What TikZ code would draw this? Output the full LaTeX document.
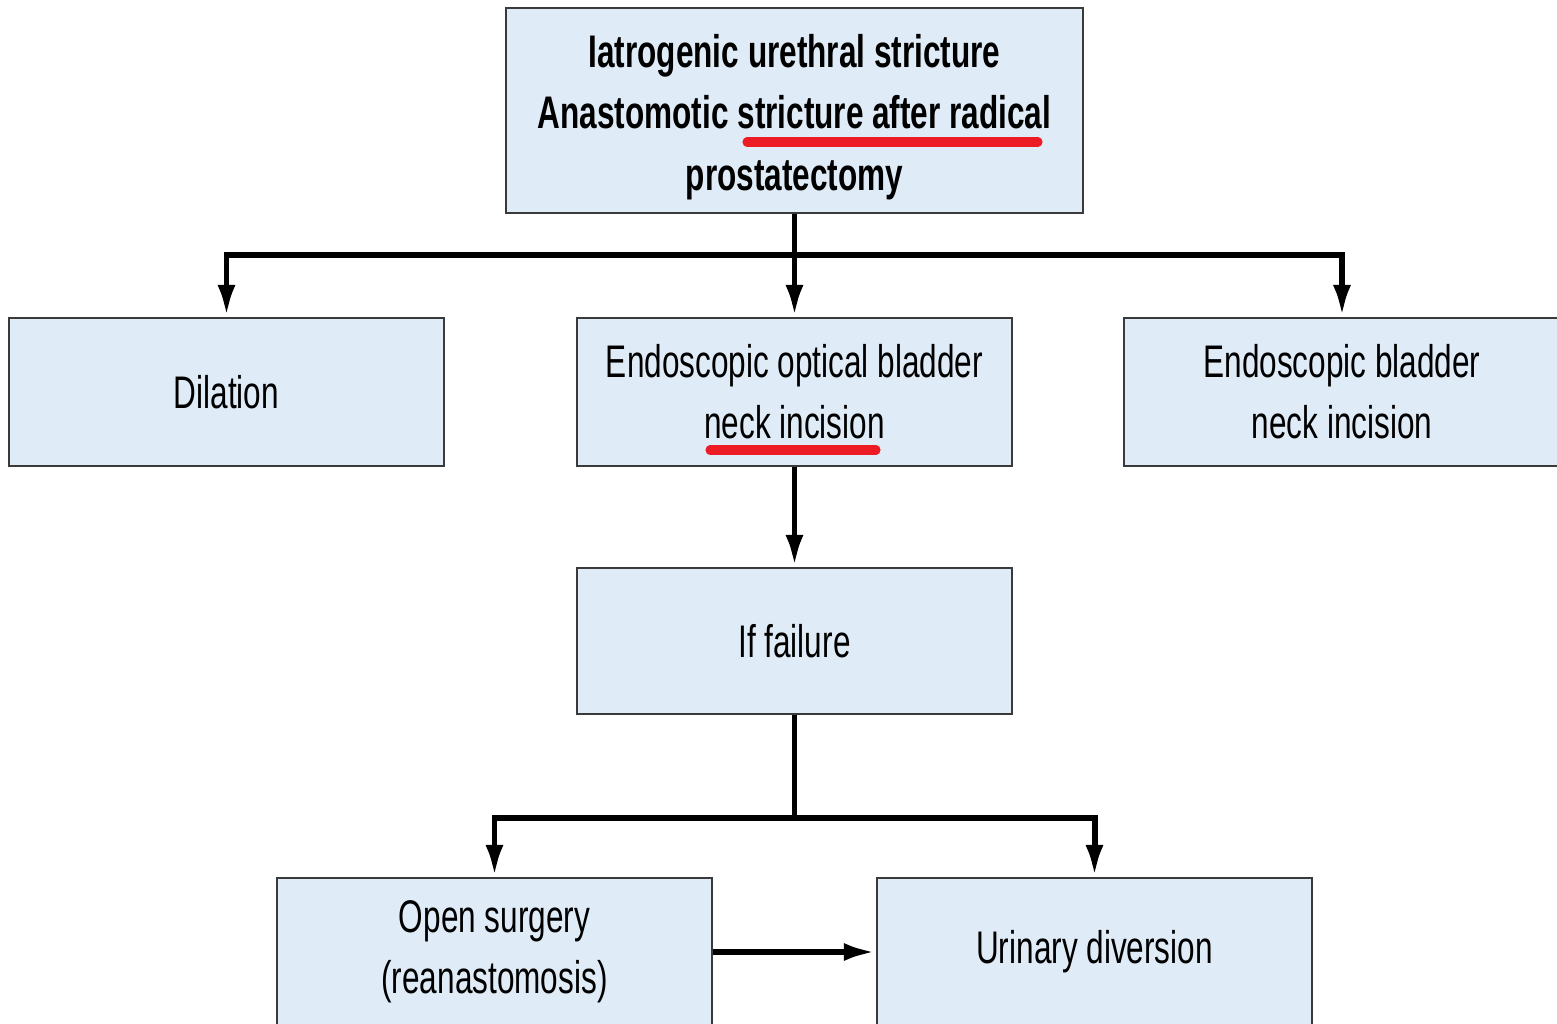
\documentclass[tikz,border=0pt]{standalone}
\usepackage{fontspec}
\setmainfont{Liberation Sans}[FakeStretch=0.69]
\usetikzlibrary{arrows.meta}
\definecolor{boxfill}{HTML}{DFEBF6}
\definecolor{boxline}{HTML}{3A3A3A}
\definecolor{markred}{HTML}{ED1C24}

\begin{document}
\begin{tikzpicture}[x=0.01cm, y=-0.01cm,
	block/.style={draw=boxline, fill=boxfill, line width=0.6pt, rectangle, minimum width=4.35cm,
		minimum height=1.48cm, inner sep=0pt, align=center, font=\fontsize{13}{17.4}\selectfont},
	link/.style={line width=1.7pt, -{Latex[length=0.32cm, width=0.18cm]}},
	redline/.style={draw=markred, line width=2.6pt, line cap=round}]
	
	\useasboundingbox (0,0) rectangle (1557,1024);
	
	%Blocks of the scheme
	\node (iatrogenic) at (794.5,110.5) [block, minimum width=5.77cm, minimum height=2.05cm,
	text height=48pt, font=\fontsize{13}{17.4}\selectfont\bfseries]{Iatrogenic urethral stricture\\Anastomotic stricture after radical\\prostatectomy};
	\node (dilation) at (226.5,392) [block]{Dilation};
	\node (opticalBNI) at (794.5,392) [block]{Endoscopic optical bladder\\neck incision};
	\node (bladderBNI) at (1342,392) [block]{Endoscopic bladder\\neck incision};
	\node (failure) at (794.5,641) [block, minimum height=1.46cm]{If failure};
	\node (openSurgery) at (494.5,952) [block]{Open surgery\\(reanastomosis)};
	\node (diversion) at (1094.5,952) [block]{Urinary diversion};
	
	%Branch points
	\coordinate (split1) at (794.5,255);
	\coordinate (split2) at (794.5,818);
	
	%Links
	\draw[link] (iatrogenic.south) -- (opticalBNI.north);
	\draw[link] (iatrogenic.south) -- (split1) -| (dilation.north);
	\draw[link] (split1) -| (bladderBNI.north);
	\draw[link] (opticalBNI.south) -- (failure.north);
	\draw[link] (failure.south) -- (split2) -| (openSurgery.north);
	\draw[link] (split2) -| (diversion.north);
	\draw[link] (openSurgery.east) -- (diversion.west);
	
	%Underlines
	\draw[redline] (747,142) -- (1038,142);
	\draw[redline] (710,450) -- (876,450);
	
\end{tikzpicture}
\end{document}
